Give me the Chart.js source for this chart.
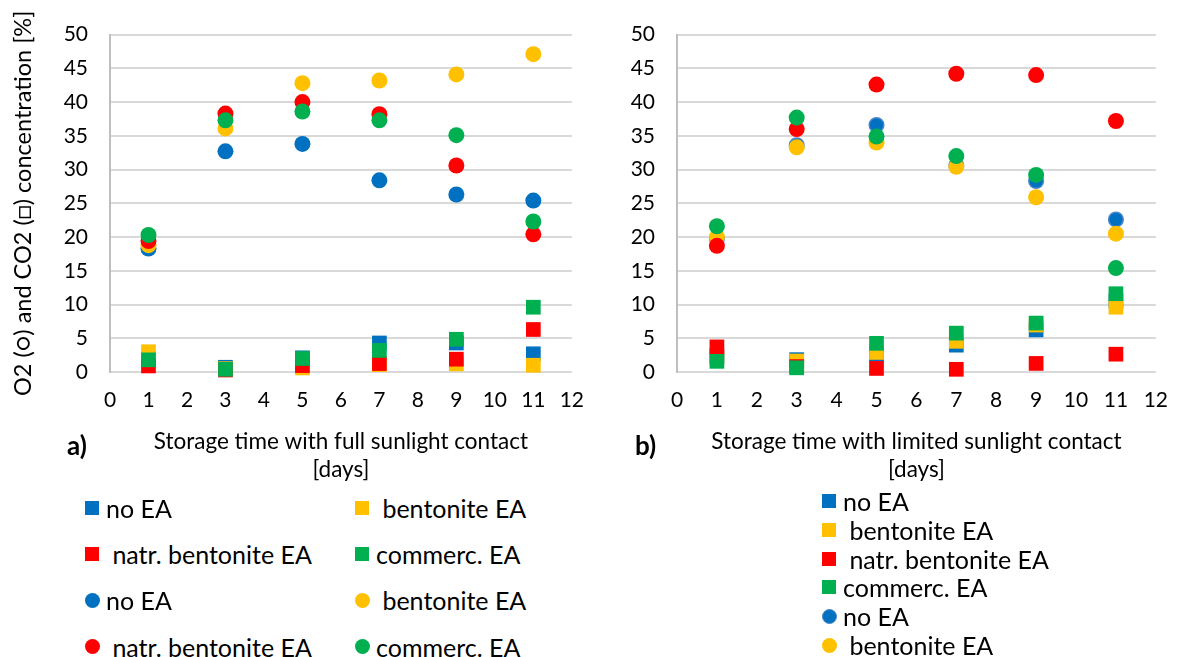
<!DOCTYPE html>
<html>
<head>
<meta charset="utf-8">
<script src="https://cdn.jsdelivr.net/npm/chart.js@4.4.1/dist/chart.umd.min.js"></script>
<style>
  html, body { margin: 0; padding: 0; background: #fff; }
  body { width: 1184px; height: 657px; position: relative; overflow: hidden; font-family: Lato, "Liberation Sans", sans-serif; color: #000; }
  .wrap { position: absolute; top: 0; height: 490px; }
  #wrapA { left: 0; width: 600px; }
  #wrapB { left: 590px; width: 594px; }
  .panel { position: absolute; font-weight: bold; font-size: 26px; line-height: 30px; }
  .leg { position: absolute; height: 30px; display: flex; align-items: center; font-size: 25px; white-space: pre; }
  .mkbox { width: 21px; height: 30px; display: flex; align-items: center; flex: none; }
  .mk { box-sizing: border-box; flex: none; }
</style>
</head>
<body>
<div class="wrap" id="wrapA"><canvas id="chartA" width="600" height="490"></canvas></div>
<div class="wrap" id="wrapB"><canvas id="chartB" width="594" height="490"></canvas></div>
<div class="panel" style="left:67px; top:430px;">a)</div>
<div class="panel" style="left:635px; top:430px;">b)</div>
<div id="legendA"></div>
<div id="legendB"></div>
<script>
// Sampling days
const days = [1, 3, 5, 7, 9, 11];

// Treatments (legend text) and their colours
const treatments = ['no EA', ' bentonite EA', ' natr. bentonite EA', 'commerc. EA'];
const colors = ['#0070C0', '#FFC000', '#FF0000', '#00B050'];

// a) full sunlight contact — CO2 [%]
const co2FullNoEA = [2.0, 0.7, 2.1, 4.3, 4.3, 2.7];
const co2FullBent = [3.0, 0.5, 0.6, 1.1, 1.2, 1.0];
const co2FullNatr = [0.9, 0.3, 0.95, 1.25, 1.9, 6.3];
const co2FullComm = [1.8, 0.4, 2.0, 3.2, 4.85, 9.6];
// a) full sunlight contact — O2 [%]
const o2FullNoEA = [18.3, 32.7, 33.8, 28.4, 26.3, 25.4];
const o2FullBent = [18.8, 36.1, 42.8, 43.2, 44.1, 47.1];
const o2FullNatr = [19.4, 38.3, 40.0, 38.2, 30.6, 20.4];
const o2FullComm = [20.3, 37.3, 38.6, 37.3, 35.1, 22.3];

// b) limited sunlight contact — CO2 [%]
const co2LimNoEA = [2.4, 1.83, 2.6, 3.98, 6.24, 10.5];
const co2LimBent = [2.2, 1.63, 2.9, 4.55, 6.96, 9.6];
const co2LimNatr = [3.72, 0.8, 0.53, 0.4, 1.27, 2.64];
const co2LimComm = [1.58, 0.62, 4.25, 5.76, 7.25, 11.6];
// b) limited sunlight contact — O2 [%]
const o2LimNoEA = [19.8, 33.6, 36.6, 30.6, 28.3, 22.6];
const o2LimBent = [20.0, 33.3, 34.0, 30.4, 25.9, 20.5];
const o2LimNatr = [18.7, 36.0, 42.6, 44.2, 44.0, 37.2];
const o2LimComm = [21.6, 37.7, 34.9, 32.0, 29.2, 15.4];

// Axis titles
const yTitle = 'O2 (○) and CO2 (□) concentration [%]';
const xTitleA = ['Storage time with full sunlight contact', '[days]'];
const xTitleB = ['Storage time with limited sunlight contact', '[days]'];

const FONT = 'Lato';

function points(values) {
  return values.map((v, i) => ({ x: days[i], y: v }));
}

// CO2 series as squares, O2 series as circles; later series drawn on top
function buildDatasets(co2, o2, ringBlue) {
  const sets = [];
  co2.forEach((vals, i) => sets.push({
    label: treatments[i], data: points(vals), pointStyle: 'rect',
    pointRadius: 10.4, pointBackgroundColor: colors[i], pointBorderWidth: 0,
    showLine: false, clip: false
  }));
  o2.forEach((vals, i) => {
    const ring = ringBlue && i === 0;
    sets.push({
      label: treatments[i], data: points(vals), pointStyle: 'circle',
      pointRadius: ring ? 7.3 : 8, pointBackgroundColor: colors[i],
      pointBorderColor: ring ? '#4A86C8' : colors[i], pointBorderWidth: ring ? 1.5 : 0,
      showLine: false, clip: false
    });
  });
  sets.forEach((s, k) => { s.order = -k; });
  return sets;
}

function buildOptions(cfg) {
  return {
    responsive: false,
    animation: false,
    events: [],
    layout: { padding: { left: 0, right: cfg.padRight, top: cfg.padTop, bottom: 0 } },
    plugins: { legend: { display: false }, tooltip: { enabled: false } },
    scales: {
      x: {
        type: 'linear', min: 0, max: 12,
        ticks: { stepSize: 1, padding: 16, color: '#000', font: { family: FONT, size: 21 } },
        grid: { display: false, drawTicks: false },
        border: { display: false },
        title: {
          display: true, text: cfg.xTitle, color: '#000',
          font: { family: FONT, size: 22.5, lineHeight: 1.245 },
          padding: { top: 0, bottom: 6 }
        },
        afterFit: (s) => { s.height = cfg.xHeight; }
      },
      y: {
        type: 'linear', min: 0, max: 50,
        ticks: { stepSize: 5, padding: 22, color: '#000', font: { family: FONT, size: 21 } },
        grid: { color: '#D9D9D9', lineWidth: 2, drawTicks: false },
        border: { display: true, color: '#BFBFBF', width: 2 },
        title: cfg.yTitle ? {
          display: true, text: cfg.yTitle, color: '#000',
          font: { family: FONT, size: 23.5 },
          padding: { top: 9, bottom: 0 }
        } : { display: false },
        afterFit: (s) => { s.width = cfg.yWidth; }
      }
    }
  };
}

const chartA = new Chart(document.getElementById('chartA'), {
  type: 'scatter',
  data: { datasets: buildDatasets(
    [co2FullNoEA, co2FullBent, co2FullNatr, co2FullComm],
    [o2FullNoEA, o2FullBent, o2FullNatr, o2FullComm], false) },
  options: buildOptions({ padRight: 20, padTop: 24, xHeight: 118, yWidth: 110, xTitle: xTitleA, yTitle: yTitle })
});

const chartB = new Chart(document.getElementById('chartB'), {
  type: 'scatter',
  data: { datasets: buildDatasets(
    [co2LimNoEA, co2LimBent, co2LimNatr, co2LimComm],
    [o2LimNoEA, o2LimBent, o2LimNatr, o2LimComm], true) },
  options: buildOptions({ padRight: 18, padTop: 25, xHeight: 118, yWidth: 87, xTitle: xTitleB, yTitle: null })
});

// Legend entries taken from the chart datasets
function legendEntry(chart, idx, left, centerY, host) {
  const ds = chart.data.datasets[idx];
  const isRect = ds.pointStyle === 'rect';
  const el = document.createElement('div');
  el.className = 'leg';
  el.style.left = left + 'px';
  el.style.top = (centerY - 15) + 'px';
  const box = document.createElement('div');
  box.className = 'mkbox';
  const mk = document.createElement('div');
  mk.className = 'mk';
  const size = isRect ? 14 : 15;
  mk.style.width = size + 'px';
  mk.style.height = size + 'px';
  mk.style.background = ds.pointBackgroundColor;
  if (!isRect) {
    mk.style.borderRadius = '50%';
    if (ds.pointBorderWidth > 0) mk.style.border = ds.pointBorderWidth + 'px solid ' + ds.pointBorderColor;
  }
  box.appendChild(mk);
  el.appendChild(box);
  const txt = document.createElement('span');
  txt.textContent = ds.label;
  el.appendChild(txt);
  host.appendChild(el);
}

const legA = document.getElementById('legendA');
chartA.data.datasets.forEach((ds, i) => {
  const row = Math.floor(i / 2), col = i % 2;
  legendEntry(chartA, i, col === 0 ? 85 : 355, 508 + row * 46.2, legA);
});

const legB = document.getElementById('legendB');
for (let i = 0; i < 6; i++) {
  legendEntry(chartB, i, 822, 500.7 + i * 28.9, legB);
}
</script>
</body>
</html>
